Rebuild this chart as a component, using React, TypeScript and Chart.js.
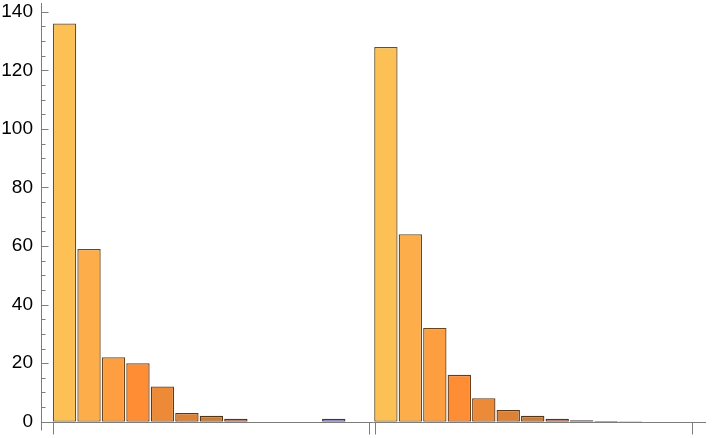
import React, { useEffect, useRef } from "react";
import { Chart, registerables } from "chart.js";

Chart.register(...registerables);

// Bar values (counts per class) for the two groups
const group1Values = [136, 59, 22, 20, 12, 3, 2, 1, 0, 0, 0, 1];
const group2Values = [128, 64, 32, 16, 8, 4, 2, 1, 0.5, 0.25, 0.125];

// Slot positions (in bar units) where each group starts
const group1Start = 0;
const group2Start = 13.13;

// Bottom axis tick positions (bar units)
const xTickPositions = [0.03, 12.94, 13.18, 26.12];

// Y axis ticks
const yMajorTicks = [0, 20, 40, 60, 80, 100, 120, 140];
const yMinorTicks = [
  5, 10, 15, 25, 30, 35, 45, 50, 55, 65, 70, 75, 85, 90, 95, 105, 110, 115,
  125, 130, 135,
];

// Colours per bar index
const barColors = [
  "#FCC055",
  "#FDAE4B",
  "#FD9F40",
  "#FE8D34",
  "#EC8A38",
  "#DB8236",
  "#CA7B34",
  "#C27A5C",
  "#B6889C",
  "#94849E",
  "#8A80A8",
  "#8B82C8",
];

function darken(hex: string, f: number) {
  const n = parseInt(hex.slice(1), 16);
  const r = Math.round(((n >> 16) & 255) * f);
  const g = Math.round(((n >> 8) & 255) * f);
  const b = Math.round((n & 255) * f);
  return `rgb(${r},${g},${b})`;
}

const AXIS_COLOR = "#7d7d7d";

const axesPlugin = {
  id: "mmaAxes",
  afterDatasetsDraw(chart: any) {
    const ctx = chart.ctx;
    const xs = chart.scales.x;
    const ys = chart.scales.y;
    const area = chart.chartArea;
    const y0 = Math.round(ys.getPixelForValue(0)) + 0.5;
    const xAxisX = Math.round(area.left) + 0.5;
    ctx.save();
    ctx.strokeStyle = AXIS_COLOR;
    ctx.lineWidth = 1;
    // y axis line
    ctx.beginPath();
    ctx.moveTo(xAxisX, area.top);
    ctx.lineTo(xAxisX, y0 + 8);
    ctx.stroke();
    // x axis line
    ctx.beginPath();
    ctx.moveTo(xAxisX, y0);
    ctx.lineTo(area.right, y0);
    ctx.stroke();
    // y ticks
    for (const v of yMajorTicks) {
      const p = Math.round(ys.getPixelForValue(v)) + 0.5;
      ctx.beginPath();
      ctx.moveTo(xAxisX, p);
      ctx.lineTo(xAxisX + 7, p);
      ctx.stroke();
    }
    for (const v of yMinorTicks) {
      const p = Math.round(ys.getPixelForValue(v)) + 0.5;
      ctx.beginPath();
      ctx.moveTo(xAxisX, p);
      ctx.lineTo(xAxisX + 4, p);
      ctx.stroke();
    }
    // x ticks
    for (const v of xTickPositions) {
      const p = Math.round(xs.getPixelForValue(v)) + 0.5;
      ctx.beginPath();
      ctx.moveTo(p, y0);
      ctx.lineTo(p, y0 + 12);
      ctx.stroke();
    }
    ctx.restore();
  },
};

export default function App() {
  const ref = useRef<HTMLCanvasElement | null>(null);
  useEffect(() => {
    if (!ref.current) return;
    const d1 = group1Values.map((v, i) => ({ x: group1Start + i + 0.5, y: v }));
    const d2 = group2Values.map((v, i) => ({ x: group2Start + i + 0.5, y: v }));
    const c1 = group1Values.map((_, i) => barColors[i]);
    const c2 = group2Values.map((_, i) => barColors[i]);
    const common = {
      borderWidth: 1.3,
      borderSkipped: false,
      grouped: false,
      barPercentage: 0.955,
      categoryPercentage: 1,
    };
    const chart = new Chart(ref.current, {
      type: "bar",
      data: {
        datasets: [
          {
            data: d1,
            backgroundColor: c1,
            borderColor: c1.map((c) => darken(c, 0.42)),
            ...common,
          },
          {
            data: d2,
            backgroundColor: c2,
            borderColor: c2.map((c) => darken(c, 0.42)),
            ...common,
          },
        ],
      },
      options: {
        responsive: false,
        animation: false,
        layout: { padding: { top: 3, right: 14, bottom: 16.3, left: 0 } },
        plugins: { legend: { display: false }, tooltip: { enabled: false } },
        scales: {
          x: {
            type: "linear",
            offset: false,
            bounds: "ticks",
            min: -0.462,
            max: 26.71,
            display: false,
          },
          y: {
            min: 0,
            max: 143,
            afterFit: (s: any) => {
              s.width = 41;
              s.paddingTop = 0;
              s.paddingBottom = 0;
            },
            afterBuildTicks: (s: any) => {
              s.ticks = yMajorTicks.map((v) => ({ value: v }));
            },
            grid: { display: false, drawTicks: false },
            border: { display: false },
            ticks: {
              padding: 8,
              color: "#000",
              font: { family: "'Liberation Sans', Arial, sans-serif", size: 19 },
            },
          },
        },
      },
      plugins: [axesPlugin],
    });
    return () => chart.destroy();
  }, []);
  return (
    <div style={{ position: "fixed", left: 0, top: 0, width: 720, height: 438, background: "#fff" }}>
      <canvas ref={ref} width={720} height={438} />
    </div>
  );
}
